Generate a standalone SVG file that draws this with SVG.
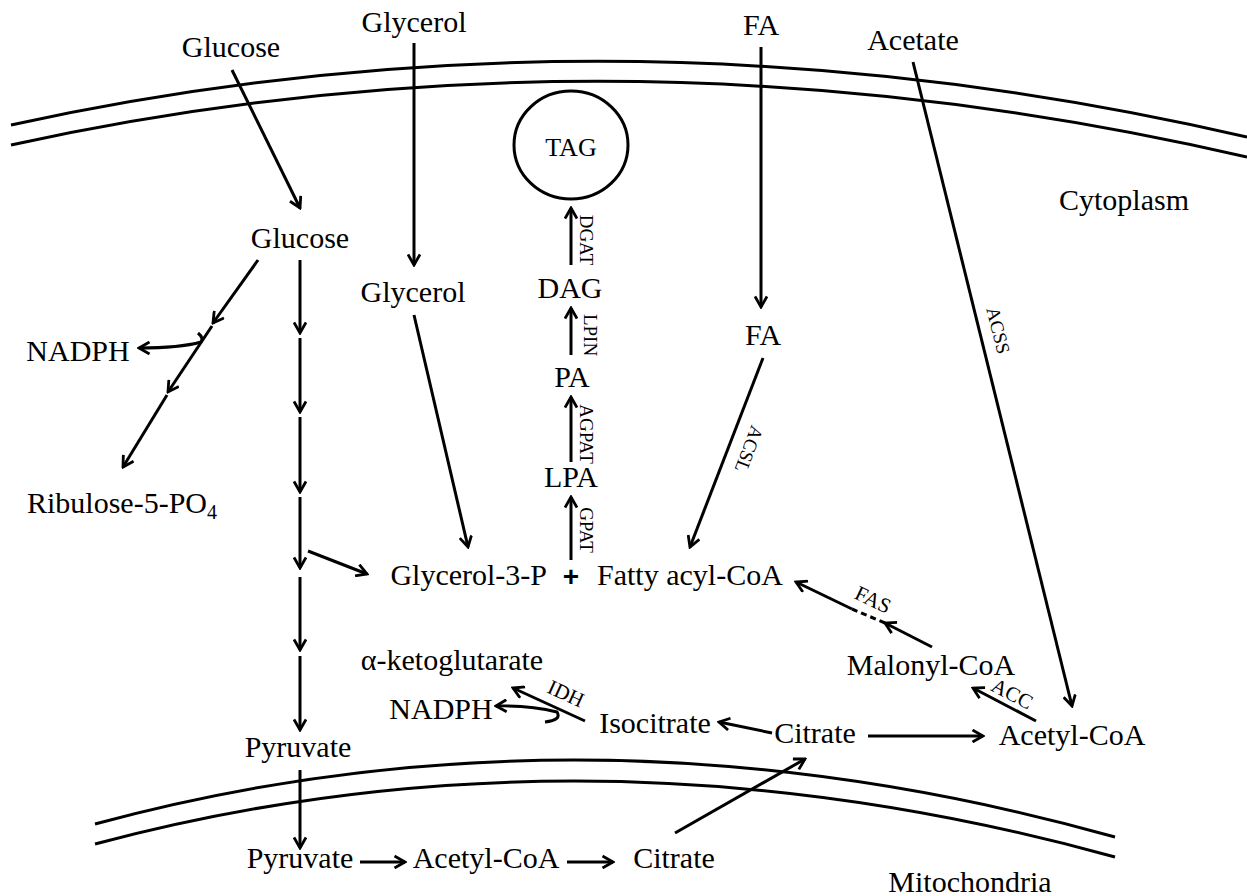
<svg xmlns="http://www.w3.org/2000/svg" width="1247" height="896" viewBox="0 0 1247 896">
<style>
.t{font-family:"Liberation Serif","Times New Roman",serif;font-size:30px;fill:#000;text-anchor:middle}
.s{font-family:"Liberation Serif","Times New Roman",serif;font-size:19px;fill:#000;text-anchor:middle}
.m{fill:none;stroke:#000;stroke-width:3}
.c{fill:none;stroke:#000;stroke-width:3;marker-end:url(#ah)}
.n{fill:none;stroke:#000;stroke-width:3}
</style>
<defs>
<marker id="ah" viewBox="0 0 14 14" refX="12" refY="7" markerWidth="14" markerHeight="14" markerUnits="userSpaceOnUse" orient="auto">
<path d="M1.5,1 L12,7 L1.5,13" fill="none" stroke="#000" stroke-width="2.8"/>
</marker>
</defs>
<rect width="1247" height="896" fill="#fff"/>
<g id="membranes">
<path class="m" d="M11 125 Q620 -8 1247 137"/>
<path class="m" d="M11 145 Q620 12 1247 157"/>
<path class="m" d="M95 824 Q590 690 1115 837"/>
<path class="m" d="M95 844 Q590 712 1115 857"/>
</g>
<g id="connectors">
<path class="c" d="M232 70 L300 208"/>
<path class="c" d="M414 43 L414 265"/>
<path class="c" d="M761 47 L761 307"/>
<path class="c" d="M913 62 L1072 706"/>
<path class="c" d="M571 265 L571 208"/>
<path class="c" d="M571 355 L571 308"/>
<path class="c" d="M571 462 L571 397"/>
<path class="c" d="M571 560 L571 497"/>
<path class="c" d="M763 358 L690 547"/>
<path class="c" d="M414 315 L468 547"/>
<path class="c" d="M300 260 L300 333"/>
<path class="c" d="M300 338 L300 412"/>
<path class="c" d="M300 417 L300 492"/>
<path class="c" d="M300 497 L300 568"/>
<path class="c" d="M300 577 L300 650"/>
<path class="c" d="M300 656 L300 730"/>
<path class="c" d="M308 551 L367 574"/>
<path class="c" d="M258 260 L213 323"/>
<path class="c" d="M212 326 L168 392"/>
<path class="c" d="M167 395 L123 467"/>
<path class="c" d="M198 333 Q204 338 201 342 Q180 348 139 348"/>
<path class="c" d="M932 647 L885 623"/>
<path class="n" d="M885 623 L852 609" stroke-dasharray="6 4"/>
<path class="c" d="M852 609 L796 582"/>
<path class="c" d="M1036 721 L973 688"/>
<path class="c" d="M868 736 L983 736"/>
<path class="c" d="M772 733 L719 722"/>
<path class="c" d="M585 721 L513 688"/>
<path class="c" d="M545 722 Q562 720 557 712 Q530 705 496 706"/>
<path class="c" d="M300 770 L300 848"/>
<path class="c" d="M360 862 L405 862"/>
<path class="c" d="M567 862 L613 862"/>
<path class="c" d="M675 833 L805 759"/>
</g>
<g id="enzymes">
<text class="s" transform="translate(580 240) rotate(90)">DGAT</text>
<text class="s" transform="translate(584 335) rotate(90)">LPIN</text>
<text class="s" transform="translate(580 434) rotate(90)">AGPAT</text>
<text class="s" transform="translate(580 530) rotate(90)">GPAT</text>
<text class="s" transform="translate(743 447) rotate(111)">ACSL</text>
<text class="s" transform="translate(992 332) rotate(76)">ACSS</text>
<text class="s" style="font-size:21px" transform="translate(870 606) rotate(25.5)">FAS</text>
<text class="s" style="font-size:21px" transform="translate(1009 700) rotate(27.6)">ACC</text>
<text class="s" style="font-size:21px" transform="translate(563 700) rotate(24.6)">IDH</text>
</g>
<g id="tag"><ellipse cx="571" cy="145" rx="57" ry="54" fill="none" stroke="#000" stroke-width="3"/><text class="t" style="font-size:26px" x="571" y="156">TAG</text></g>
<g id="glucose-out"><text class="t" x="231" y="57">Glucose</text></g>
<g id="glycerol-out"><text class="t" x="414" y="32">Glycerol</text></g>
<g id="fa-out"><text class="t" x="761" y="35">FA</text></g>
<g id="acetate"><text class="t" x="913" y="50">Acetate</text></g>
<g id="cytoplasm"><text class="t" x="1124" y="210">Cytoplasm</text></g>
<g id="glucose"><text class="t" x="300" y="248">Glucose</text></g>
<g id="glycerol"><text class="t" x="413" y="302">Glycerol</text></g>
<g id="dag"><text class="t" x="570" y="298">DAG</text></g>
<g id="fa"><text class="t" x="763" y="345">FA</text></g>
<g id="nadph1"><text class="t" x="78" y="361">NADPH</text></g>
<g id="pa"><text class="t" x="572" y="387">PA</text></g>
<g id="lpa"><text class="t" x="571" y="487">LPA</text></g>
<g id="ribulose"><text class="t" style="text-anchor:start" x="27" y="513">Ribulose-5-PO<tspan style="font-size:20px" dy="6">4</tspan></text></g>
<g id="g3p"><text class="t" style="text-anchor:end" x="547" y="585">Glycerol-3-P</text></g>
<g id="plus"><text x="571" y="586" style="font-family:'Liberation Sans',Arial,sans-serif;font-size:28px;font-weight:bold;text-anchor:middle">+</text></g>
<g id="facoa"><text class="t" style="text-anchor:start" x="597" y="585">Fatty acyl-CoA</text></g>
<g id="malonyl"><text class="t" x="931" y="675">Malonyl-CoA</text></g>
<g id="akg"><text class="t" x="452" y="670">α-ketoglutarate</text></g>
<g id="nadph2"><text class="t" x="441" y="719">NADPH</text></g>
<g id="isocitrate"><text class="t" x="655" y="733">Isocitrate</text></g>
<g id="citrate"><text class="t" x="815" y="743">Citrate</text></g>
<g id="acetylcoa"><text class="t" x="1072" y="745">Acetyl-CoA</text></g>
<g id="pyruvate"><text class="t" x="298" y="757">Pyruvate</text></g>
<g id="pyruvate-m"><text class="t" x="300" y="868">Pyruvate</text></g>
<g id="acetylcoa-m"><text class="t" x="486" y="868">Acetyl-CoA</text></g>
<g id="citrate-m"><text class="t" x="674" y="868">Citrate</text></g>
<g id="mito"><text class="t" x="970" y="892">Mitochondria</text></g>
</svg>
